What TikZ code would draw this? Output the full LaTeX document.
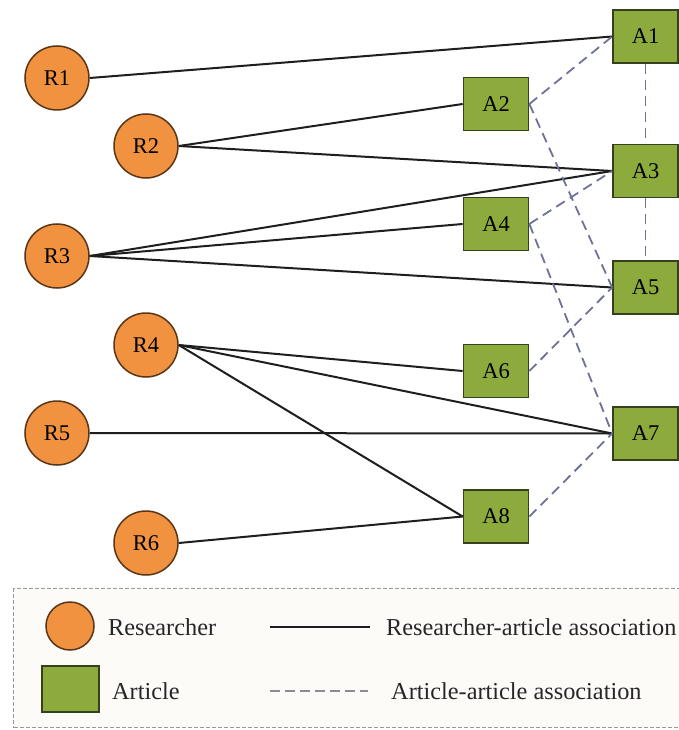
\documentclass[tikz,border=0pt]{standalone}
\usepackage{fontspec}
\setmainfont{Liberation Serif}
\definecolor{rescol}{HTML}{F0923F}
\definecolor{resdark}{HTML}{5A3518}
\definecolor{artcol}{HTML}{8DAA3D}
\definecolor{artdark}{HTML}{34401E}
\definecolor{linecol}{HTML}{1E1E1E}
\definecolor{dashcol}{HTML}{6E7299}
\definecolor{legfill}{HTML}{FCFBF8}
\begin{document}
\begin{tikzpicture}[x=1pt,y=-1pt,
  res/.style={circle, draw=resdark, fill=rescol, line width=1.5pt, minimum size=64pt, inner sep=0pt, font=\fontsize{22.5}{22.5}\selectfont},
  art/.style={rectangle, draw=artdark, fill=artcol, line width=1.7pt, minimum width=65pt, minimum height=53pt, inner sep=0pt, font=\fontsize{22.5}{22.5}\selectfont},
  ra/.style={draw=linecol, line width=2pt},
  aa/.style={draw=dashcol, line width=1.8pt, dash pattern=on 10pt off 6pt},
  legtext/.style={anchor=west, inner sep=0pt, font=\fontsize{24.3}{24.3}\selectfont, text=black!85},
]
\useasboundingbox (0,0) rectangle (679,730);
\clip (0,0) rectangle (679,730);

% legend frame
\node[draw=gray!80, fill=legfill, line width=1pt, dash pattern=on 4pt off 2pt, minimum width=672pt, minimum height=139pt, inner sep=0pt, anchor=north west] (legend) at (13,588) {};

% researchers
\node[res] (R1) at (57,78) {R1};
\node[res] (R2) at (146,146) {R2};
\node[res] (R3) at (57,256) {R3};
\node[res] (R4) at (146,345) {R4};
\node[res] (R5) at (57,433) {R5};
\node[res] (R6) at (146,543) {R6};

% articles
\node[art] (A1) at (645.5,36.5) {A1};
\node[art] (A2) at (496,104) {A2};
\node[art] (A3) at (645.5,171) {A3};
\node[art] (A4) at (496,224) {A4};
\node[art] (A5) at (645.5,287.5) {A5};
\node[art] (A6) at (496,371) {A6};
\node[art] (A7) at (645.5,433.5) {A7};
\node[art] (A8) at (496,516.5) {A8};

% researcher-article associations
\draw[ra] (R1.east) -- (A1.west);
\draw[ra] (R2.east) -- (A2.west);
\draw[ra] (R2.east) -- (A3.west);
\draw[ra] (R3.east) -- (A3.west);
\draw[ra] (R3.east) -- (A4.west);
\draw[ra] (R3.east) -- (A5.west);
\draw[ra] (R4.east) -- (A6.west);
\draw[ra] (R4.east) -- (A7.west);
\draw[ra] (R4.east) -- (A8.west);
\draw[ra] (R5.east) -- (A7.west);
\draw[ra] (R6.east) -- (A8.west);

% article-article associations
\draw[aa] (A2.east) -- (A1.west);
\draw[aa] (A2.east) -- (A5.west);
\draw[aa] (A4.east) -- (A3.west);
\draw[aa] (A4.east) -- (A7.west);
\draw[aa] (A6.east) -- (A5.west);
\draw[aa] (A8.east) -- (A7.west);
\draw[aa] (A1.south) -- (A3.north);
\draw[aa] (A3.south) -- (A5.north);

% legend content
\node[res, minimum size=48pt] (lres) at (70,626) {};
\node[legtext] (lrestext) at (108,627) {Researcher};
\node[art, minimum width=57pt, minimum height=46pt] (lart) at (70.5,689) {};
\node[legtext] (larttext) at (112,691) {Article};
\coordinate (ls1) at (270,627);
\coordinate (ls2) at (370,627);
\draw[ra] (ls1) -- (ls2);
\node[legtext] (lratext) at (386,627) {Researcher-article association};
\coordinate (ld1) at (270,691);
\coordinate (ld2) at (368,691);
\draw[draw=gray!90, line width=1.3pt, dash pattern=on 10pt off 5pt] (ld1) -- (ld2);
\node[legtext] (laatext) at (391,691) {Article-article association};
\end{tikzpicture}
\end{document}
